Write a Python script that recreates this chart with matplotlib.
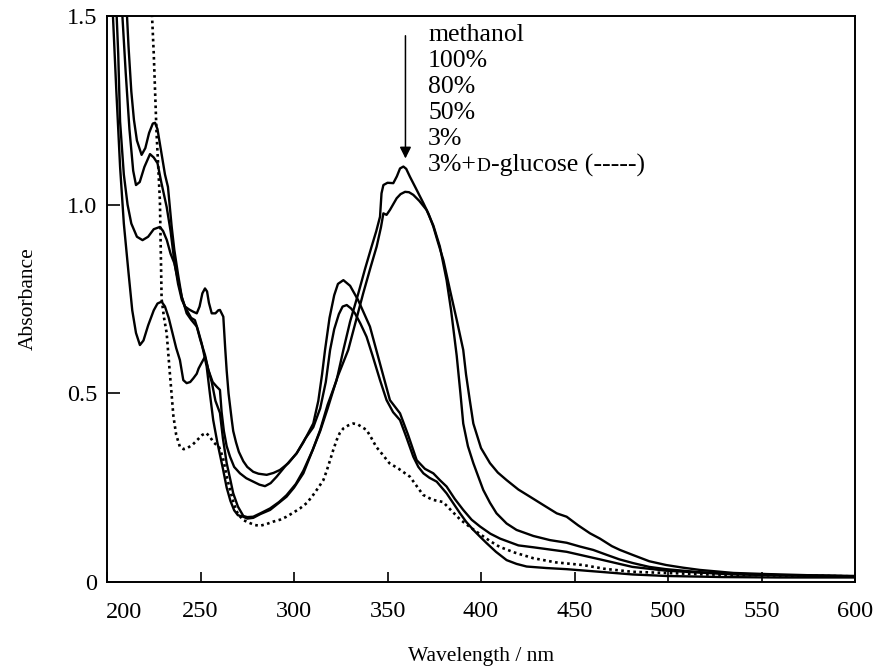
import matplotlib
matplotlib.use("Agg")
import matplotlib.pyplot as plt

plt.rcParams["font.family"] = ["Liberation Serif", "DejaVu Serif"]

# methanol 100 % (highest band at ~358 nm)
meoh100_wl = [208, 210, 212, 214, 215.5, 217.5, 220, 223, 225, 227, 229, 231.9, 234, 236, 238, 240,
              242.6, 245, 247, 248.5, 250.6, 253.3, 255, 256.8, 259, 262, 264, 266, 268, 270, 272.9,
              275, 278.2, 282, 287.2, 292, 296, 300, 305, 310, 314, 318, 322.8, 326.4, 330, 334.4,
              338, 341.5, 344, 346, 346.8, 347.8, 350, 353.1, 355, 356.7, 358.5, 360, 362, 365,
              369.2, 372, 374.5, 377, 379.9, 383.4, 387, 390.5, 392, 394, 395.9, 400, 404.8, 409,
              413.7, 420, 426.2, 433, 440.5, 445.8, 452, 458.3, 463.6, 470, 474.3, 481, 490, 499,
              508, 517, 535, 553, 575, 600]
meoh100_abs = [1.52, 1.35, 1.20, 1.09, 1.052, 1.06, 1.10, 1.134, 1.125, 1.11, 1.06, 0.994, 0.93,
               0.85, 0.79, 0.748, 0.721, 0.70, 0.694, 0.67, 0.633, 0.571, 0.50, 0.429, 0.37, 0.30,
               0.25, 0.215, 0.19, 0.177, 0.173, 0.168, 0.17, 0.18, 0.191, 0.21, 0.226, 0.25, 0.288,
               0.35, 0.403, 0.47, 0.535, 0.615, 0.69, 0.765, 0.83, 0.889, 0.93, 0.968, 1.03, 1.052,
               1.058, 1.057, 1.075, 1.096, 1.101, 1.095, 1.074, 1.045, 1.004, 0.975, 0.942, 0.90,
               0.853, 0.774, 0.695, 0.615, 0.55, 0.482, 0.42, 0.355, 0.315, 0.29, 0.27, 0.245,
               0.226, 0.205, 0.182, 0.173, 0.15, 0.129, 0.115, 0.095, 0.085, 0.072, 0.055, 0.045,
               0.038, 0.032, 0.024, 0.021, 0.018, 0.016]

# methanol 80 %
meoh80_wl = [205, 206, 207, 209, 211, 213, 216, 219, 222, 225, 228.3, 230, 232, 234, 236, 238, 240,
             242.6, 245, 248, 250, 252.4, 254.2, 256, 258, 260.4, 262, 264, 266, 267.5, 270, 272.9,
             275, 278.2, 282, 287.2, 292, 296, 301, 305, 310, 314, 318, 323, 329, 333, 337, 341,
             344.2, 346.5, 347.8, 349.5, 351.3, 354.9, 357, 359.4, 361.5, 363.8, 367, 370.9, 374.5,
             378, 381.6, 384, 387, 389, 390.5, 393, 395.9, 398.5, 401.2, 404.8, 408.3, 413.7, 419,
             428, 436.9, 445.8, 452.9, 460, 467.2, 474, 481.4, 490, 499, 517, 535, 560, 600]
meoh80_abs = [1.52, 1.40, 1.22, 1.08, 1.0, 0.95, 0.915, 0.906, 0.915, 0.935, 0.941, 0.93, 0.906,
              0.87, 0.845, 0.80, 0.755, 0.712, 0.695, 0.677, 0.64, 0.602, 0.562, 0.53, 0.48, 0.448,
              0.38, 0.315, 0.27, 0.235, 0.20, 0.175, 0.172, 0.173, 0.182, 0.195, 0.212, 0.23, 0.26,
              0.295, 0.35, 0.40, 0.46, 0.54, 0.615, 0.69, 0.765, 0.835, 0.889, 0.94, 0.977, 0.973,
              0.986, 1.017, 1.028, 1.034, 1.033, 1.026, 1.01, 0.986, 0.945, 0.889, 0.80, 0.72, 0.60,
              0.50, 0.42, 0.36, 0.315, 0.28, 0.244, 0.21, 0.182, 0.155, 0.138, 0.122, 0.111, 0.104,
              0.094, 0.085, 0.072, 0.06, 0.05, 0.04, 0.034, 0.026, 0.022, 0.018, 0.015]

# methanol 50 %
meoh50_wl = [210.5, 211.5, 213, 214.4, 216, 218.5, 220.5, 222.5, 224.5, 225.7, 227, 229, 231, 232.6,
             234.6, 236, 238, 240, 241.7, 244, 246.2, 248, 249.5, 251, 252.4, 253.5, 254.5, 256, 258,
             259.5, 260.4, 262.2, 263.2, 264, 265, 266.7, 267.5, 269, 270.5, 272.9, 275, 278.2, 281,
             285.4, 289, 292.5, 297, 301.4, 305, 310.3, 313, 315, 316.6, 319, 321.5, 323.5, 326.4,
             330, 334.3, 340.6, 346.9, 351.3, 356.7, 361, 365.6, 370, 374.5, 378, 381.6, 386, 390.5,
             395, 399.5, 405, 410.2, 420, 428, 445.8, 463.6, 481, 499, 517, 535, 560, 600]
meoh50_abs = [1.52, 1.42, 1.30, 1.225, 1.17, 1.132, 1.15, 1.19, 1.215, 1.217, 1.20, 1.14, 1.08,
              1.047, 0.941, 0.88, 0.815, 0.755, 0.73, 0.722, 0.716, 0.712, 0.73, 0.765, 0.778, 0.77,
              0.74, 0.712, 0.712, 0.72, 0.721, 0.703, 0.62, 0.56, 0.50, 0.43, 0.40, 0.37, 0.345,
              0.32, 0.305, 0.292, 0.287, 0.284, 0.289, 0.297, 0.315, 0.341, 0.37, 0.42, 0.48, 0.55,
              0.615, 0.70, 0.76, 0.79, 0.80, 0.785, 0.747, 0.677, 0.562, 0.482, 0.447, 0.39, 0.323,
              0.30, 0.288, 0.27, 0.253, 0.22, 0.191, 0.165, 0.147, 0.128, 0.115, 0.097, 0.092, 0.08,
              0.06, 0.04, 0.03, 0.025, 0.02, 0.018, 0.015]

# methanol 3 %
meoh3_wl = [203, 205, 207, 209, 211.5, 213.5, 215.5, 217.6, 219.5, 222, 225, 227, 229.2, 231, 233,
            235, 237, 239, 240.8, 242.6, 244.5, 246.2, 248, 249, 250.5, 252.4, 254.2, 256.5, 258.6,
            260.4, 261.3, 262.5, 264, 265.8, 268, 271.1, 274.5, 278.2, 281.5, 284.5, 287.5, 290.7,
            295, 301.4, 306, 310.3, 314, 317, 319.3, 321.5, 324, 326, 328.2, 330.5, 332.6, 335.5,
            338.8, 342, 346, 349.5, 353, 356.7, 360, 363.8, 366.5, 369.2, 372.5, 376.3, 381.6, 385,
            388.8, 392, 395.9, 399.5, 403, 408, 413.7, 419, 424.4, 435, 445.8, 463.6, 481, 499, 530,
            560, 600]
meoh3_abs = [1.52, 1.30, 1.10, 0.95, 0.82, 0.72, 0.66, 0.628, 0.64, 0.68, 0.72, 0.738, 0.743, 0.73,
             0.70, 0.66, 0.62, 0.588, 0.535, 0.527, 0.53, 0.54, 0.552, 0.566, 0.58, 0.597, 0.562,
             0.53, 0.518, 0.509, 0.45, 0.40, 0.36, 0.332, 0.305, 0.288, 0.275, 0.266, 0.258, 0.254,
             0.262, 0.279, 0.305, 0.341, 0.38, 0.41, 0.46, 0.53, 0.615, 0.67, 0.71, 0.73, 0.734,
             0.725, 0.712, 0.685, 0.65, 0.60, 0.535, 0.482, 0.45, 0.429, 0.385, 0.332, 0.305, 0.288,
             0.276, 0.266, 0.235, 0.21, 0.182, 0.16, 0.138, 0.12, 0.103, 0.08, 0.058, 0.048, 0.041,
             0.037, 0.034, 0.027, 0.02, 0.016, 0.013, 0.012, 0.012]

# methanol 3 % + D-glucose (dotted)
gluc_wl = [223.9, 225, 226.5, 228.3, 229.2, 230.5, 231.9, 233.5, 235.5, 237, 239, 241, 243, 246,
           249, 251, 253, 255, 257, 260, 262, 264, 266, 268, 270, 272.9, 276.5, 279, 281.8, 285,
           288.9, 292.5, 296, 300, 303.2, 307, 310.3, 313, 315.7, 317.5, 319.3, 321, 322.8, 324.5,
           326.4, 329, 331.7, 334, 336.5, 338.8, 341, 344, 347, 351, 356, 362, 365.5, 369, 374,
           379.7, 384, 389, 394, 400, 405, 410, 418, 428, 440, 454.5, 466, 481, 499, 520, 550, 600]
gluc_abs = [1.52, 1.40, 1.19, 1.01, 0.75, 0.70, 0.66, 0.56, 0.44, 0.39, 0.358, 0.352, 0.355, 0.365,
            0.38, 0.39, 0.395, 0.385, 0.37, 0.357, 0.33, 0.28, 0.24, 0.205, 0.18, 0.164, 0.156,
            0.151, 0.149, 0.153, 0.16, 0.165, 0.173, 0.185, 0.195, 0.21, 0.231, 0.25, 0.27, 0.295,
            0.323, 0.35, 0.376, 0.395, 0.407, 0.415, 0.42, 0.418, 0.41, 0.403, 0.385, 0.358, 0.34,
            0.315, 0.30, 0.279, 0.255, 0.231, 0.218, 0.212, 0.19, 0.165, 0.146, 0.125, 0.108, 0.093,
            0.078, 0.063, 0.052, 0.045, 0.035, 0.027, 0.024, 0.02, 0.018, 0.015]

legend_lines = ["methanol", "100%", "80%", "50%", "3%"]

xticks = [200, 250, 300, 350, 400, 450, 500, 550, 600]
xtick_labels = ["", "250", "300", "350", "400", "450", "500", "550", "600"]
yticks = [0, 0.5, 1.0, 1.5]
ytick_labels = ["0", "0.5", "1.0", "1.5"]

W, H = 880, 668
fig = plt.figure(figsize=(W / 100, H / 100), dpi=100)
ax = fig.add_axes([107 / W, 1 - 582 / H, (855 - 107) / W, (582 - 16) / H])

solid = dict(color="black", lw=1.7, solid_joinstyle="round")
for wl, ab in [(meoh100_wl, meoh100_abs), (meoh80_wl, meoh80_abs),
               (meoh50_wl, meoh50_abs), (meoh3_wl, meoh3_abs)]:
    ax.plot(wl, ab, **solid)
ax.plot(gluc_wl, gluc_abs, color="black", lw=1.9, linestyle=(0, (1.0, 1.3)))

ax.set_xlim(200, 600)
ax.set_ylim(0, 1.5)
ax.set_xticks(xticks)
ax.set_xticklabels(xtick_labels)
ax.set_yticks(yticks)
ax.set_yticklabels(ytick_labels)
ax.tick_params(axis="both", direction="in", labelsize=17.5, width=1.2, top=False, right=False)
ax.tick_params(axis="x", length=7, pad=14)
ax.tick_params(axis="y", length=9.5, pad=7)
for s in ax.spines.values():
    s.set_linewidth(1.4)

# first x label sits a little to the right of its tick, clear of the "0"
ax.annotate("200", xy=(xticks[0], 0), xycoords=("data", "axes fraction"),
            xytext=(17, -31), textcoords="offset pixels",
            ha="center", va="center", fontsize=17.5)

ax.set_xlabel("Wavelength / nm", fontsize=15.5, va="center")
ax.set_ylabel("Absorbance", fontsize=15.5, va="center")
ax.xaxis.set_label_coords(0.5, (582 - 656) / 566)
ax.yaxis.set_label_coords((28 - 107) / 748, 0.5)

# arrow over the 358 nm band
ax.annotate("", xy=(359.6, 1.115), xytext=(359.6, 1.455),
            arrowprops=dict(arrowstyle="-|>", color="black", lw=1.1, mutation_scale=17))

# legend block
fs = 18.5
tx = 428 / W
for i, line in enumerate(legend_lines):
    fig.text(tx, 1 - (35 + 26 * i) / H, line, fontsize=fs, va="center", ha="left")

ybase = 1 - (35 + 26 * 5) / H
renderer = fig.canvas.get_renderer()
t1 = fig.text(tx, ybase, "3%+", fontsize=fs, va="center", ha="left")
x1 = t1.get_window_extent(renderer).x1 / W
t2 = fig.text(x1, ybase - 0.0015, "D", fontsize=fs * 0.75, va="center", ha="left")
x2 = t2.get_window_extent(renderer).x1 / W
fig.text(x2, ybase, "-glucose (-----)", fontsize=fs, va="center", ha="left")

fig.savefig("out.png", dpi=100)
